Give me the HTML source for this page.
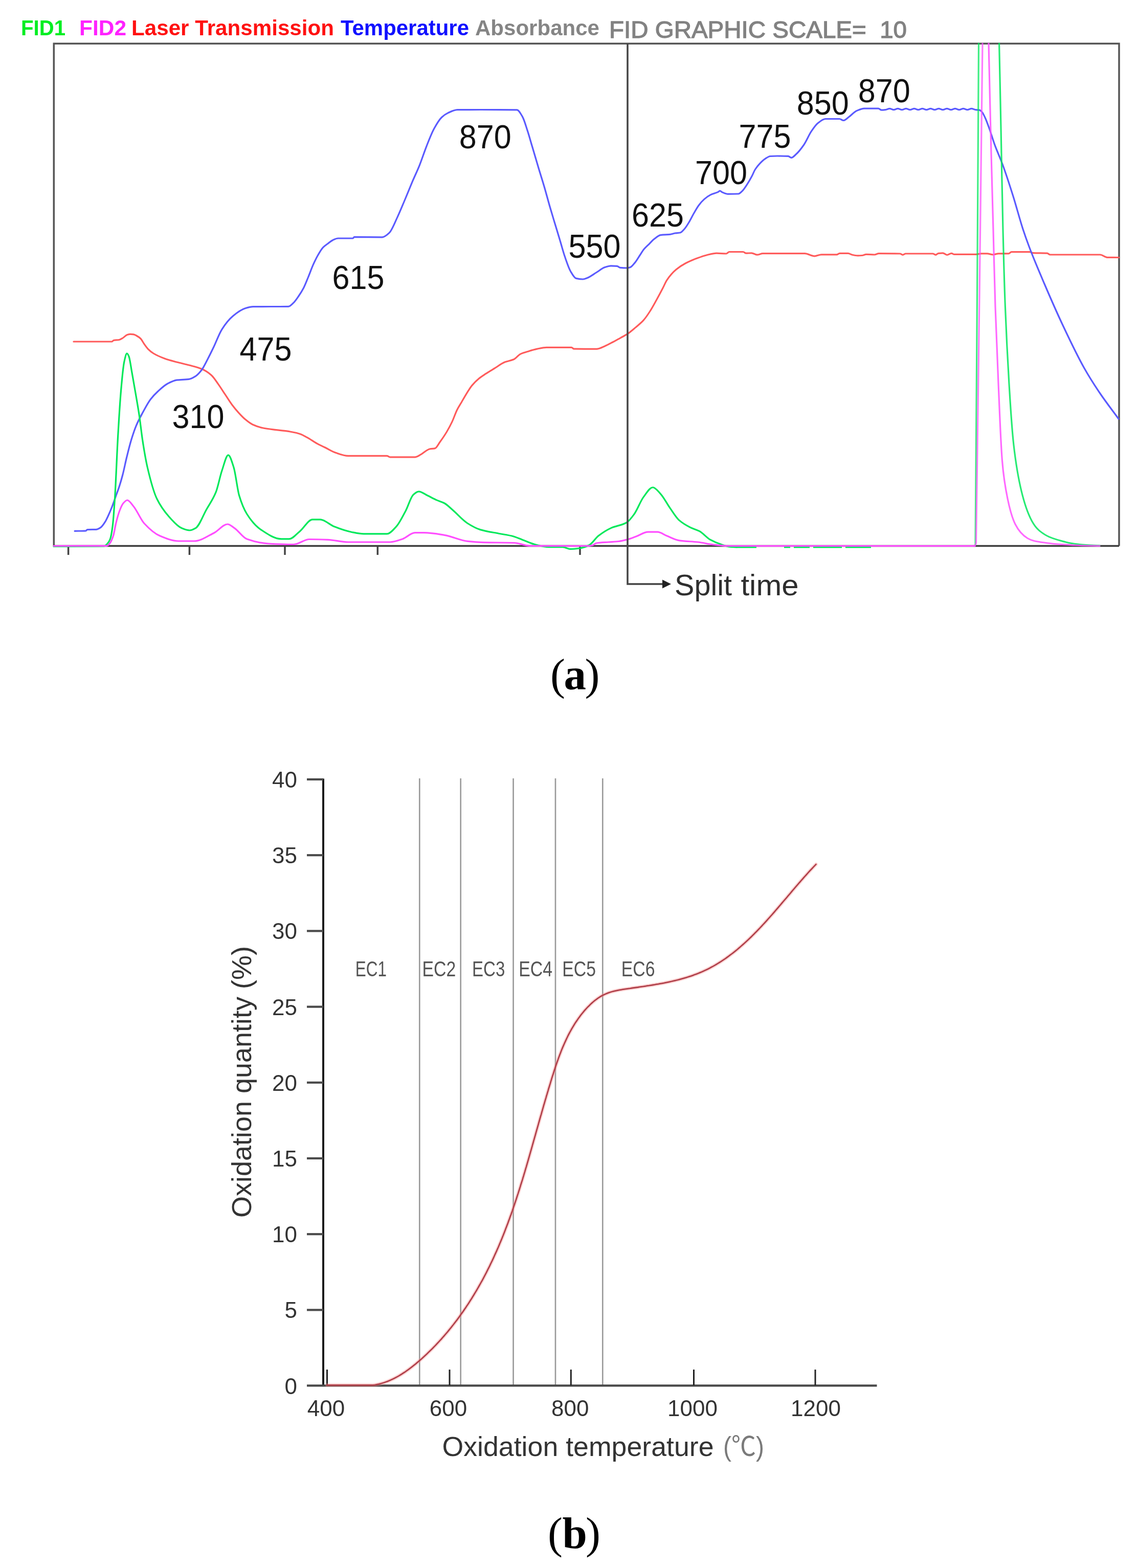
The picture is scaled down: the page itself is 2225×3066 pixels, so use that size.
<!DOCTYPE html>
<html><head><meta charset="utf-8"><title>Figure</title>
<style>
html,body{margin:0;padding:0;background:#fff;}
svg{display:block;}
.lg{font-family:"Liberation Sans",sans-serif;font-weight:bold;font-size:42px;}
.num{font-family:"Liberation Sans",sans-serif;font-size:65px;fill:#111;}
.ax{font-family:"Liberation Sans",sans-serif;font-size:44px;fill:#333;}
.ttl{font-family:"Liberation Sans",sans-serif;font-size:53px;fill:#333;}
.ec{font-family:"Liberation Sans",sans-serif;font-size:42px;fill:#555;}
.cap{font-family:"Liberation Serif",serif;font-size:87px;fill:#000;}
</style></head><body>
<svg width="2225" height="3066" viewBox="0 0 2225 3066">
<rect x="0" y="0" width="2225" height="3066" fill="#fff"/>
<g class="lg"><text x="41" y="69" fill="#00ee22" textLength="87" lengthAdjust="spacingAndGlyphs">FID1</text><text x="155" y="69" fill="#ff22ff" textLength="92" lengthAdjust="spacingAndGlyphs">FID2</text><text x="257" y="69" fill="#ff1111" textLength="396" lengthAdjust="spacingAndGlyphs">Laser Transmission</text><text x="666" y="69" fill="#1111ff" textLength="251" lengthAdjust="spacingAndGlyphs">Temperature</text><text x="929" y="69" fill="#858585" textLength="243" lengthAdjust="spacingAndGlyphs">Absorbance</text></g><text x="1191" y="74" fill="#828282" stroke="#828282" stroke-width="1.3" style="font-family:'Liberation Sans',sans-serif;font-size:46px;white-space:pre" xml:space="preserve" textLength="582" lengthAdjust="spacingAndGlyphs">FID GRAPHIC SCALE=  10</text>
<g fill="none" stroke="#555" stroke-width="3.5"><path d="M105.3 1067.5 L105.3 85.3 L2188 85.3 L2188 1067.5"/><path d="M105 1067.5 L2188 1067.5" stroke="#3c3c3c"/></g>
<g stroke="#444" stroke-width="3.5" fill="none"><path d="M133.6 1068 L133.6 1085"/><path d="M370.4 1068 L370.4 1085"/><path d="M557.0 1068 L557.0 1085"/><path d="M738.3 1068 L738.3 1085"/><path d="M1134.0 1068 L1134.0 1085"/></g>
<g fill="none" stroke-linejoin="round" stroke-linecap="round"><path stroke="#ff5a5a" stroke-width="3.2" d="M144.0 668.0 C169.0 668.0 194.0 668.0 219.0 668.0 C220.0 668.0 221.0 665.7 222.0 665.5 C225.7 664.8 229.3 665.1 233.0 664.5 C235.3 664.1 237.7 662.4 240.0 661.0 C243.0 659.2 246.0 655.4 249.0 654.5 C251.0 653.9 253.0 653.3 255.0 653.3 C257.0 653.3 259.0 653.5 261.0 653.8 C263.0 654.1 265.0 655.4 267.0 656.5 C269.6 657.9 272.2 659.5 274.8 662.0 C277.2 664.3 279.6 669.5 282.0 672.8 C284.4 676.2 286.9 679.8 289.3 682.3 C292.9 685.9 296.4 688.8 300.0 691.0 C307.0 695.3 314.0 698.1 321.0 700.7 C329.1 703.7 337.3 705.8 345.4 708.0 C353.5 710.2 361.6 711.8 369.7 714.0 C377.8 716.2 385.9 717.9 394.0 721.3 C400.5 724.0 406.9 728.0 413.4 733.7 C417.8 737.6 422.3 744.9 426.7 751.1 C431.2 757.3 435.6 764.5 440.1 771.2 C444.6 777.9 449.0 785.2 453.5 791.2 C457.9 797.1 462.4 802.5 466.8 807.3 C471.3 812.2 475.7 816.9 480.2 820.6 C484.7 824.3 489.1 827.9 493.6 830.0 C500.3 833.1 506.9 835.3 513.6 836.7 C522.5 838.6 531.5 839.5 540.4 840.7 C549.3 841.9 558.2 842.5 567.1 844.0 C573.8 845.1 580.5 846.5 587.2 848.7 C591.6 850.2 596.1 853.0 600.5 855.4 C607.0 859.0 613.5 863.9 620.0 867.4 C625.0 870.1 630.0 872.2 635.0 874.7 C642.1 878.2 649.2 882.9 656.3 885.3 C664.4 888.0 672.5 891.4 680.6 891.4 C705.9 891.4 731.3 891.4 756.6 891.4 C758.6 891.4 760.6 893.8 762.6 893.8 C778.8 893.8 795.0 893.8 811.2 893.8 C815.3 893.8 819.3 890.4 823.4 888.3 C828.9 885.4 834.5 879.1 840.0 878.0 C843.6 877.3 847.1 877.5 850.7 876.6 C853.8 875.8 856.9 868.8 860.0 864.5 C864.5 858.3 868.9 852.0 873.4 844.5 C877.0 838.5 880.5 832.0 884.1 824.4 C887.2 817.8 890.4 808.0 893.5 801.7 C896.6 795.5 899.7 791.0 902.8 785.7 C905.9 780.3 909.1 774.6 912.2 769.6 C915.8 763.9 919.3 757.9 922.9 753.6 C927.4 748.2 931.8 743.9 936.3 740.2 C940.7 736.6 945.2 733.8 949.6 730.9 C955.4 727.1 961.2 723.7 967.0 720.2 C973.7 716.1 980.3 710.8 987.0 708.1 C992.8 705.8 998.6 705.4 1004.4 702.8 C1008.9 700.8 1013.3 694.2 1017.8 692.1 C1023.2 689.5 1028.5 688.3 1033.9 686.7 C1039.1 685.1 1044.3 683.5 1049.5 682.4 C1055.8 681.1 1062.1 679.3 1068.4 679.3 C1084.7 679.3 1101.1 679.3 1117.4 679.3 C1119.0 679.3 1120.5 682.2 1122.1 682.2 C1136.9 682.4 1151.6 682.4 1166.4 682.4 C1171.7 682.4 1176.9 679.1 1182.2 676.9 C1187.5 674.7 1192.7 671.8 1198.0 669.0 C1203.3 666.2 1208.5 663.2 1213.8 660.3 C1218.0 658.0 1222.2 656.0 1226.4 653.2 C1231.7 649.7 1236.9 645.1 1242.2 640.6 C1247.5 636.1 1252.7 632.2 1258.0 626.4 C1262.2 621.8 1266.4 615.5 1270.6 609.0 C1274.8 602.5 1279.1 594.5 1283.3 586.9 C1287.5 579.3 1291.8 571.3 1296.0 563.2 C1298.6 558.2 1301.2 551.7 1303.8 547.8 C1309.9 538.7 1315.9 532.1 1322.0 527.0 C1328.0 521.9 1334.0 518.2 1340.0 515.0 C1347.3 511.1 1354.7 508.1 1362.0 505.3 C1368.7 502.8 1375.3 500.3 1382.0 498.7 C1388.3 497.2 1394.7 495.2 1401.0 495.2 C1407.3 495.2 1413.7 496.0 1420.0 496.0 C1421.9 496.0 1423.9 492.5 1425.8 492.5 C1434.9 492.5 1443.9 492.5 1453.0 492.5 C1454.9 492.5 1456.7 495.2 1458.6 495.2 C1462.2 495.2 1465.9 494.8 1469.5 494.8 C1473.1 494.8 1476.8 498.2 1480.4 498.2 C1484.1 498.2 1487.7 495.6 1491.4 495.6 C1518.7 495.6 1546.1 495.6 1573.4 495.6 C1579.8 495.6 1586.1 500.8 1592.5 500.8 C1597.0 500.8 1601.5 497.9 1606.0 497.9 C1616.0 497.9 1626.0 497.9 1636.0 497.9 C1637.9 497.9 1639.8 495.4 1641.7 495.4 C1647.1 495.4 1652.6 495.4 1658.0 495.4 C1660.8 495.4 1663.5 497.6 1666.3 498.2 C1669.9 499.0 1673.6 499.8 1677.2 499.8 C1680.0 499.8 1682.7 499.7 1685.5 499.5 C1688.2 499.3 1691.0 497.4 1693.7 497.4 C1699.1 497.4 1704.6 498.0 1710.0 498.0 C1712.8 498.0 1715.5 495.6 1718.3 495.6 C1732.1 495.6 1745.8 495.7 1759.6 496.0 C1761.4 496.0 1763.2 498.3 1765.0 498.3 C1766.9 498.3 1768.8 496.0 1770.7 496.0 C1788.4 496.0 1806.1 496.0 1823.8 496.0 C1825.7 496.0 1827.5 498.3 1829.4 498.3 C1831.3 498.3 1833.1 495.5 1835.0 495.3 C1837.8 495.0 1840.6 494.8 1843.4 494.8 C1846.2 494.8 1849.0 498.5 1851.8 498.5 C1854.6 498.5 1857.4 495.3 1860.2 495.3 C1862.1 495.3 1863.9 497.4 1865.8 497.4 C1879.8 497.4 1893.7 497.4 1907.7 497.4 C1911.4 497.4 1915.2 495.8 1918.9 495.8 C1922.6 495.8 1926.3 495.8 1930.0 495.8 C1933.7 495.8 1937.5 498.0 1941.2 498.0 C1944.9 498.0 1948.7 495.8 1952.4 495.8 C1958.9 495.8 1965.5 495.8 1972.0 495.8 C1973.9 495.8 1975.7 492.6 1977.6 492.6 C1989.7 492.6 2001.8 492.6 2013.9 492.6 C2015.8 492.6 2017.6 494.5 2019.5 494.6 C2028.8 495.1 2038.1 494.7 2047.4 495.2 C2049.3 495.3 2051.1 498.0 2053.0 498.0 C2085.6 498.0 2118.2 498.0 2150.8 498.0 C2155.5 498.0 2160.1 503.2 2164.8 503.3 C2172.5 503.4 2180.3 503.4 2188.0 503.5"/><path stroke="#5a5aff" stroke-width="3.2" d="M146.2 1038.4 C153.5 1038.2 160.7 1038.3 168.0 1037.8 C168.8 1037.7 169.7 1035.6 170.5 1035.6 C176.2 1035.4 181.8 1035.5 187.5 1035.4 C190.7 1035.3 194.0 1033.3 197.2 1031.1 C200.0 1029.2 202.9 1024.7 205.7 1020.2 C207.7 1017.0 209.8 1012.4 211.8 1008.0 C214.2 1002.8 216.6 997.1 219.0 991.0 C221.5 984.7 223.9 977.3 226.4 970.4 C228.8 963.6 231.3 957.3 233.7 949.7 C235.7 943.5 237.7 936.6 239.7 929.0 C242.5 918.4 245.2 904.2 248.0 893.0 C250.9 881.3 253.8 869.5 256.7 860.0 C260.0 849.3 263.2 839.7 266.5 831.9 C270.5 822.3 274.6 815.0 278.6 807.6 C283.9 797.9 289.1 787.7 294.4 780.8 C299.3 774.4 304.1 769.5 309.0 765.0 C315.1 759.4 321.1 753.7 327.2 750.5 C333.3 747.3 339.3 744.0 345.4 743.2 C353.5 742.2 361.6 742.5 369.7 741.4 C373.8 740.8 377.8 738.4 381.9 735.9 C385.9 733.4 390.0 728.9 394.0 723.7 C398.1 718.5 402.1 709.6 406.2 701.9 C409.8 695.0 413.5 687.5 417.1 680.0 C422.7 668.3 428.4 652.6 434.0 643.8 C441.1 632.7 448.3 623.9 455.4 618.0 C463.5 611.3 471.6 605.2 479.7 602.8 C484.8 601.3 489.9 599.8 495.0 599.7 C506.7 599.6 518.3 599.5 530.0 599.5 C541.2 599.5 552.5 599.5 563.7 599.4 C567.3 599.4 570.8 595.0 574.4 591.6 C577.3 588.8 580.3 584.3 583.2 580.0 C586.8 574.8 590.3 569.3 593.9 562.4 C596.8 556.8 599.7 549.0 602.6 542.0 C605.8 534.2 609.1 524.9 612.3 517.7 C615.5 510.5 618.8 503.8 622.0 498.3 C625.3 492.7 628.5 487.1 631.8 483.7 C635.0 480.4 638.3 478.4 641.5 476.0 C644.7 473.6 648.0 470.6 651.2 469.2 C654.5 467.7 657.7 466.0 661.0 466.0 C670.6 466.0 680.1 466.0 689.7 466.0 C690.7 466.0 691.8 463.4 692.8 463.4 C711.0 463.4 729.2 463.8 747.4 463.8 C751.9 463.8 756.5 459.6 761.0 455.4 C766.3 450.5 771.7 435.8 777.0 424.6 C782.0 414.1 786.9 401.8 791.9 390.0 C796.8 378.3 801.8 365.8 806.7 354.2 C811.2 343.6 815.7 334.5 820.2 323.3 C824.7 312.0 829.3 297.7 833.8 286.3 C838.7 273.9 843.7 260.7 848.6 251.7 C853.6 242.7 858.5 234.2 863.5 229.5 C867.6 225.6 871.7 222.8 875.8 220.9 C882.0 218.0 888.1 214.8 894.3 214.7 C909.5 214.5 924.8 214.5 940.0 214.5 C963.5 214.5 987.1 214.5 1010.6 214.8 C1014.3 214.8 1018.0 222.2 1021.7 228.6 C1024.9 234.2 1028.1 245.8 1031.3 255.6 C1034.5 265.3 1037.6 276.7 1040.8 287.3 C1045.0 301.5 1049.3 316.1 1053.5 330.2 C1057.2 342.5 1060.9 354.0 1064.6 366.7 C1068.3 379.4 1072.0 393.6 1075.7 406.3 C1078.9 417.2 1082.0 427.5 1085.2 438.0 C1088.4 448.6 1091.6 459.1 1094.8 469.8 C1098.0 480.3 1101.1 492.3 1104.3 501.6 C1108.0 512.4 1111.7 523.9 1115.4 530.2 C1119.1 536.5 1122.8 543.6 1126.5 544.4 C1130.9 545.4 1135.3 546.0 1139.7 546.0 C1142.5 546.0 1145.4 544.6 1148.2 543.5 C1154.3 541.2 1160.4 536.2 1166.5 532.5 C1171.7 529.3 1177.0 524.6 1182.2 522.8 C1186.3 521.4 1190.3 519.8 1194.4 519.8 C1198.4 519.8 1202.5 520.0 1206.5 520.4 C1208.5 520.6 1210.6 523.2 1212.6 523.4 C1217.1 523.8 1221.5 524.0 1226.0 524.0 C1228.0 524.0 1230.0 523.4 1232.0 522.8 C1235.3 521.8 1238.5 517.0 1241.8 513.1 C1245.0 509.2 1248.3 503.3 1251.5 498.5 C1253.9 494.9 1256.4 490.6 1258.8 487.6 C1262.4 483.2 1266.1 480.2 1269.7 476.6 C1272.5 473.8 1275.4 470.3 1278.2 468.1 C1282.7 464.6 1287.1 460.2 1291.6 459.6 C1297.7 458.8 1303.7 459.1 1309.8 458.4 C1313.0 458.0 1316.3 456.5 1319.5 456.0 C1322.9 455.5 1326.3 455.6 1329.7 455.0 C1332.5 454.5 1335.4 450.8 1338.2 447.7 C1341.5 444.2 1344.7 438.5 1348.0 433.1 C1350.8 428.4 1353.7 422.2 1356.5 417.3 C1359.7 411.7 1363.0 405.8 1366.2 401.5 C1369.8 396.7 1373.5 392.5 1377.1 389.4 C1381.2 385.9 1385.2 383.0 1389.3 380.9 C1394.5 378.3 1399.8 377.5 1405.0 374.8 C1405.8 374.4 1406.7 373.2 1407.5 373.2 C1409.1 373.2 1410.7 375.3 1412.3 376.0 C1416.0 377.5 1419.6 379.4 1423.3 379.4 C1430.2 379.4 1437.1 379.3 1444.0 379.0 C1446.4 378.9 1448.8 375.9 1451.2 373.6 C1454.5 370.5 1457.7 365.2 1461.0 360.2 C1463.8 355.9 1466.7 350.9 1469.5 345.6 C1471.9 341.1 1474.3 334.8 1476.7 331.0 C1479.6 326.5 1482.4 323.1 1485.3 320.1 C1488.9 316.3 1492.6 312.7 1496.2 310.4 C1499.4 308.3 1502.7 305.7 1505.9 305.5 C1510.6 305.2 1515.3 305.0 1520.0 305.0 C1527.0 305.0 1534.0 305.1 1541.0 305.4 C1543.1 305.5 1545.1 308.4 1547.2 308.4 C1550.2 308.4 1553.3 304.5 1556.3 301.8 C1561.4 297.3 1566.4 290.8 1571.5 283.5 C1576.6 276.2 1581.6 263.6 1586.7 256.2 C1590.7 250.3 1594.8 244.2 1598.8 241.0 C1603.9 237.0 1608.9 232.5 1614.0 232.5 C1623.1 232.5 1632.3 232.5 1641.4 232.5 C1643.9 232.5 1646.5 235.5 1649.0 235.5 C1652.5 235.5 1656.1 231.3 1659.6 228.8 C1664.7 225.3 1669.7 218.9 1674.8 216.7 C1679.9 214.5 1684.9 212.1 1690.0 212.1 C1699.1 212.1 1708.2 212.1 1717.3 212.1 C1719.3 212.1 1721.4 215.2 1723.4 215.2 C1726.1 215.2 1728.7 214.9 1731.4 214.6 C1734.1 214.3 1736.7 212.4 1739.4 212.4 C1742.1 212.4 1744.7 214.6 1747.4 214.6 C1750.1 214.6 1752.7 212.4 1755.4 212.4 C1758.1 212.4 1760.7 214.6 1763.4 214.6 C1766.1 214.6 1768.7 212.4 1771.4 212.4 C1774.1 212.4 1776.7 214.6 1779.4 214.6 C1782.1 214.6 1784.7 212.4 1787.4 212.4 C1790.1 212.4 1792.7 214.6 1795.4 214.6 C1798.1 214.6 1800.7 212.4 1803.4 212.4 C1806.1 212.4 1808.7 214.6 1811.4 214.6 C1814.1 214.6 1816.7 212.4 1819.4 212.4 C1822.1 212.4 1824.7 214.6 1827.4 214.6 C1830.1 214.6 1832.7 212.4 1835.4 212.4 C1838.1 212.4 1840.7 214.6 1843.4 214.6 C1846.1 214.6 1848.7 212.4 1851.4 212.4 C1854.1 212.4 1856.7 214.6 1859.4 214.6 C1862.1 214.6 1864.7 212.4 1867.4 212.4 C1870.1 212.4 1872.7 214.6 1875.4 214.6 C1878.1 214.6 1880.7 212.4 1883.4 212.4 C1886.1 212.4 1888.7 214.6 1891.4 214.6 C1894.1 214.6 1896.7 212.4 1899.4 212.4 C1902.1 212.4 1904.7 214.3 1907.4 214.6 C1909.9 214.9 1912.3 214.8 1914.8 215.2 C1916.5 215.5 1918.3 217.2 1920.0 219.0 C1922.0 221.1 1924.0 225.8 1926.0 230.0 C1928.8 235.9 1931.5 243.7 1934.3 251.4 C1937.7 260.9 1941.2 273.0 1944.6 282.4 C1949.7 296.5 1954.9 307.1 1960.0 321.0 C1966.9 339.7 1973.8 361.1 1980.7 383.0 C1987.1 403.4 1993.6 428.3 2000.0 448.0 C2004.0 460.2 2008.0 471.4 2012.0 482.0 C2022.0 508.5 2032.0 531.6 2042.0 555.0 C2054.0 583.1 2066.0 610.5 2078.0 636.0 C2092.0 665.7 2106.0 695.3 2120.0 720.0 C2130.0 737.7 2140.0 753.2 2150.0 768.0 C2162.3 786.3 2174.7 802.0 2187.0 819.0"/><path stroke="#00e85a" stroke-width="3.2" d="M105.0 1068.5 C137.7 1068.3 170.3 1068.5 203.0 1068.0 C205.3 1068.0 207.7 1065.4 210.0 1063.0 C211.8 1061.2 213.6 1058.6 215.4 1054.0 C216.9 1050.1 218.5 1041.2 220.0 1030.0 C221.5 1019.0 223.0 997.5 224.5 975.0 C226.5 944.5 228.6 887.7 230.6 853.0 C232.6 818.3 234.7 784.7 236.7 762.0 C238.7 739.3 240.8 716.8 242.8 707.6 C244.6 699.5 246.4 691.0 248.2 691.0 C249.5 691.0 250.7 694.0 252.0 697.0 C254.0 701.7 256.0 717.7 258.0 728.6 C260.8 744.1 263.7 760.5 266.5 777.2 C268.5 789.0 270.5 800.2 272.5 813.7 C274.5 827.4 276.6 846.8 278.6 860.0 C281.8 881.0 285.1 900.2 288.3 914.0 C294.4 940.1 300.5 962.3 306.6 975.0 C314.7 991.9 322.9 1001.9 331.0 1011.0 C339.0 1019.9 347.0 1029.3 355.0 1032.6 C360.1 1034.7 365.3 1037.0 370.4 1037.0 C374.4 1037.0 378.5 1034.9 382.5 1032.6 C389.6 1028.6 396.7 1008.6 403.8 996.0 C409.9 985.2 415.9 977.7 422.0 962.7 C426.0 952.8 430.0 931.6 434.0 920.0 C438.1 908.1 442.2 889.8 446.3 889.8 C449.9 889.8 453.4 902.8 457.0 914.0 C460.5 925.1 464.1 957.0 467.6 968.8 C472.6 985.6 477.7 997.0 482.7 1005.0 C491.8 1019.4 500.9 1029.5 510.0 1035.6 C523.3 1044.5 536.7 1053.9 550.0 1053.9 C555.1 1053.9 560.1 1053.9 565.2 1053.9 C572.3 1053.9 579.4 1044.4 586.5 1038.7 C594.6 1032.2 602.7 1015.9 610.8 1015.9 C615.9 1015.9 620.9 1015.9 626.0 1015.9 C635.1 1015.9 644.2 1026.0 653.3 1029.6 C664.4 1034.0 675.6 1038.0 686.7 1040.2 C694.8 1041.8 702.9 1043.9 711.0 1043.9 C726.2 1043.9 741.4 1043.9 756.6 1043.9 C762.7 1043.9 768.7 1036.1 774.8 1029.6 C780.9 1023.1 786.9 1010.5 793.0 999.2 C798.1 989.7 803.1 971.7 808.2 967.3 C811.7 964.2 815.3 961.2 818.8 961.2 C824.4 961.2 829.9 966.2 835.5 968.8 C841.6 971.7 847.7 975.2 853.8 977.9 C858.9 980.1 863.9 981.3 869.0 984.0 C874.0 986.7 879.0 992.0 884.0 996.2 C894.2 1004.8 904.3 1017.1 914.5 1023.5 C922.6 1028.6 930.7 1033.2 938.8 1035.6 C951.0 1039.3 963.1 1040.8 975.3 1043.2 C983.9 1044.9 992.4 1045.9 1001.0 1048.0 C1007.8 1049.7 1014.5 1052.9 1021.3 1055.4 C1029.4 1058.4 1037.5 1062.4 1045.6 1064.5 C1054.7 1066.8 1063.8 1069.7 1072.9 1069.7 C1082.0 1069.7 1091.1 1069.7 1100.2 1069.7 C1105.3 1069.7 1110.3 1073.6 1115.4 1073.6 C1121.5 1073.6 1127.6 1072.8 1133.7 1072.0 C1139.8 1071.2 1145.8 1069.0 1151.9 1066.0 C1157.9 1063.0 1164.0 1052.5 1170.0 1047.8 C1178.1 1041.5 1186.3 1036.3 1194.4 1032.6 C1204.5 1028.0 1214.7 1027.7 1224.8 1022.0 C1229.9 1019.2 1234.9 1012.2 1240.0 1005.3 C1246.1 997.0 1252.1 979.9 1258.2 971.9 C1264.3 963.9 1270.3 953.0 1276.4 953.0 C1281.5 953.0 1286.5 960.4 1291.6 965.8 C1297.7 972.3 1303.7 984.5 1309.8 993.1 C1315.9 1001.7 1321.9 1012.1 1328.0 1017.4 C1335.1 1023.6 1342.2 1027.5 1349.3 1031.1 C1355.4 1034.2 1361.5 1035.4 1367.6 1038.7 C1374.7 1042.5 1381.7 1051.5 1388.8 1055.4 C1395.9 1059.3 1402.9 1062.1 1410.0 1064.5 C1415.0 1066.2 1420.0 1068.2 1425.0 1068.8 C1430.0 1069.4 1435.0 1069.6 1440.0 1070.0"/><path stroke="#00e85a" stroke-width="3.2" stroke-linecap="butt" stroke-dasharray="39 54 12 7 31 7 56 7 50 300" d="M1440 1070 L1720 1070"/><path stroke="#00e85a" stroke-opacity="0.75" stroke-width="3.2" d="M1905.0 1067.5 L1907.0 1066.0 L1910.5 580.0 L1913.5 85.0"/><path stroke="#00e85a" stroke-opacity="0.85" stroke-width="3.2" d="M1953.6 85.0 C1954.2 112.5 1955.8 189.2 1957.0 250.0 C1958.2 310.8 1959.6 391.7 1961.0 450.0 C1962.4 508.3 1963.4 550.0 1965.4 600.0 C1967.4 650.0 1970.2 704.8 1972.9 749.7 C1975.7 794.6 1977.9 834.6 1981.9 869.6 C1985.9 904.6 1990.9 934.6 1996.9 959.6 C2002.9 984.6 2009.9 1005.0 2017.9 1019.5 C2025.9 1034.0 2033.8 1039.8 2044.8 1046.5 C2055.8 1053.2 2072.8 1057.0 2083.8 1060.0 C2094.8 1063.0 2099.8 1063.3 2110.8 1064.5 C2121.8 1065.7 2143.5 1066.6 2150.0 1067.0"/><path stroke="#ff4dff" stroke-width="3.2" d="M105.0 1067.5 C139.7 1067.4 174.3 1067.5 209.0 1067.3 C211.0 1067.3 213.0 1064.5 215.0 1062.0 C217.2 1059.3 219.3 1054.3 221.5 1047.8 C223.3 1042.3 225.2 1029.3 227.0 1022.0 C229.2 1013.1 231.5 1004.8 233.7 999.0 C236.1 992.7 238.6 986.7 241.0 984.0 C243.6 981.1 246.2 978.0 248.8 978.0 C252.9 978.0 256.9 985.2 261.0 990.0 C268.0 998.3 275.0 1015.9 282.0 1023.5 C292.2 1034.5 302.4 1043.5 312.6 1047.8 C324.7 1052.9 336.9 1058.0 349.0 1058.0 C359.2 1058.0 369.3 1058.0 379.5 1058.0 C392.7 1058.0 405.8 1048.4 419.0 1041.7 C427.6 1037.3 436.2 1025.0 444.8 1025.0 C449.3 1025.0 453.9 1029.6 458.4 1032.6 C466.5 1038.0 474.6 1051.1 482.7 1054.0 C496.8 1059.1 510.9 1062.2 525.0 1063.0 C541.4 1063.9 557.9 1064.5 574.3 1064.5 C584.4 1064.5 594.6 1054.5 604.7 1054.5 C616.8 1054.5 628.9 1054.9 641.0 1055.4 C654.2 1055.9 667.4 1060.0 680.6 1060.0 C707.9 1060.0 735.3 1060.0 762.6 1060.0 C770.7 1060.0 778.9 1056.6 787.0 1053.9 C795.1 1051.2 803.1 1041.7 811.2 1041.7 C817.3 1041.7 823.4 1041.7 829.5 1041.7 C842.7 1041.7 855.8 1044.2 869.0 1046.3 C884.2 1048.7 899.3 1056.7 914.5 1058.4 C924.7 1059.5 934.8 1060.3 945.0 1060.6 C965.2 1061.1 985.4 1060.9 1005.6 1061.5 C1015.7 1061.8 1025.9 1067.3 1036.0 1067.3 C1074.0 1067.5 1112.0 1067.5 1150.0 1067.5 C1152.7 1067.5 1155.3 1067.0 1158.0 1066.5 C1160.7 1066.0 1163.3 1062.4 1166.0 1062.0 C1174.0 1060.7 1182.0 1060.6 1190.0 1060.0 C1196.7 1059.5 1203.3 1059.3 1210.0 1058.5 C1214.9 1057.9 1219.9 1056.7 1224.8 1055.4 C1230.9 1053.8 1236.9 1051.4 1243.0 1049.3 C1251.1 1046.4 1259.2 1040.2 1267.3 1040.2 C1273.4 1040.2 1279.4 1040.2 1285.5 1040.2 C1291.6 1040.2 1297.7 1045.4 1303.8 1047.8 C1311.9 1051.0 1319.9 1055.7 1328.0 1056.9 C1340.2 1058.7 1352.3 1058.6 1364.5 1060.0 C1374.6 1061.1 1384.8 1063.9 1394.9 1065.0 C1405.0 1066.1 1415.2 1067.5 1425.3 1067.5 C1585.5 1067.5 1745.8 1067.5 1906.0 1067.5"/><path stroke="#ff4dff" stroke-opacity="0.75" stroke-width="3.2" d="M1906.0 1067.5 L1908.5 1062.0 L1915.0 580.0 L1921.0 85.0"/><path stroke="#ff4dff" stroke-opacity="0.85" stroke-width="3.2" d="M1933.0 85.0 C1933.8 120.8 1936.5 239.2 1938.0 300.0 C1939.5 360.8 1940.7 400.0 1942.0 450.0 C1943.3 500.0 1944.3 550.0 1946.0 600.0 C1947.7 650.0 1949.8 700.0 1952.0 750.0 C1954.2 800.0 1956.4 862.5 1959.4 900.0 C1962.4 937.5 1965.7 954.2 1970.0 975.0 C1974.3 995.8 1978.5 1012.1 1985.0 1025.0 C1991.5 1037.9 1999.0 1046.4 2009.0 1052.5 C2019.0 1058.6 2029.8 1059.2 2045.0 1061.5 C2060.2 1063.8 2082.5 1065.0 2100.0 1066.0 C2117.5 1067.0 2141.7 1067.2 2150.0 1067.5"/></g>
<g stroke="#444" stroke-width="3.5" fill="none"><path d="M1227 85 L1227 1142 L1298 1142"/></g><path d="M1295 1133.5 L1312 1142 L1295 1150.5 Z" fill="#222"/>
<text y="1164" style="font-family:'Liberation Sans',sans-serif;font-size:57px" fill="#2e2e2e"><tspan x="1319" textLength="112" lengthAdjust="spacingAndGlyphs">Split</tspan><tspan x="1448.5" textLength="113" lengthAdjust="spacingAndGlyphs">time</tspan></text>
<g class="num"><text x="336.5" y="836.7" textLength="102" lengthAdjust="spacingAndGlyphs">310</text><text x="468.6" y="704.5" textLength="102" lengthAdjust="spacingAndGlyphs">475</text><text x="649.6" y="564.5" textLength="102" lengthAdjust="spacingAndGlyphs">615</text><text x="897.8" y="289.6" textLength="102" lengthAdjust="spacingAndGlyphs">870</text><text x="1111.6" y="503.7" textLength="102" lengthAdjust="spacingAndGlyphs">550</text><text x="1235.0" y="443.0" textLength="102" lengthAdjust="spacingAndGlyphs">625</text><text x="1359.0" y="359.5" textLength="102" lengthAdjust="spacingAndGlyphs">700</text><text x="1444.5" y="289.0" textLength="102" lengthAdjust="spacingAndGlyphs">775</text><text x="1557.8" y="224.3" textLength="102" lengthAdjust="spacingAndGlyphs">850</text><text x="1677.8" y="200.0" textLength="102" lengthAdjust="spacingAndGlyphs">870</text></g>
<text class="cap" x="1076" y="1348">(<tspan font-weight="bold" dx="-2.5">a</tspan><tspan dx="-2.5">)</tspan></text>
<g stroke="#999" stroke-width="2.6"><path d="M820.3 1522 L820.3 2709"/><path d="M900.7 1522 L900.7 2709"/><path d="M1003.6 1522 L1003.6 2709"/><path d="M1086.0 1522 L1086.0 2709"/><path d="M1178.3 1522 L1178.3 2709"/></g>
<g class="ec"><text x="694.8" y="1909" textLength="61.2" lengthAdjust="spacingAndGlyphs">EC1</text><text x="825.4" y="1909" textLength="65.8" lengthAdjust="spacingAndGlyphs">EC2</text><text x="923.0" y="1909" textLength="64.3" lengthAdjust="spacingAndGlyphs">EC3</text><text x="1014.2" y="1909" textLength="65.8" lengthAdjust="spacingAndGlyphs">EC4</text><text x="1099.2" y="1909" textLength="65.8" lengthAdjust="spacingAndGlyphs">EC5</text><text x="1214.7" y="1909" textLength="65.8" lengthAdjust="spacingAndGlyphs">EC6</text></g>
<g stroke="#1a1a1a" stroke-width="4" fill="none"><path d="M632 1522.5 L632 2711"/></g><g stroke="#4a4a4a" stroke-width="4.2" fill="none"><path d="M600 2709.4 L1714.5 2709.4"/><path d="M600 2561.4 L632 2561.4"/><path d="M600 2413.2 L632 2413.2"/><path d="M600 2265.0 L632 2265.0"/><path d="M600 2116.8 L632 2116.8"/><path d="M600 1968.6 L632 1968.6"/><path d="M600 1820.4 L632 1820.4"/><path d="M600 1672.2 L632 1672.2"/><path d="M600 1524.0 L632 1524.0"/></g><g stroke="#222" stroke-width="3" fill="none"><path d="M639.5 2678 L639.5 2709"/><path d="M879.0 2678 L879.0 2709"/><path d="M1116.3 2678 L1116.3 2709"/><path d="M1356.5 2678 L1356.5 2709"/><path d="M1594.0 2678 L1594.0 2709"/></g>
<g class="ax" text-anchor="end"><text x="581" y="2725.6">0</text><text x="581" y="2577.4">5</text><text x="581" y="2429.2">10</text><text x="581" y="2281.0">15</text><text x="581" y="2132.8">20</text><text x="581" y="1984.6">25</text><text x="581" y="1836.4">30</text><text x="581" y="1688.2">35</text><text x="581" y="1540.0">40</text></g><g class="ax" text-anchor="middle"><text x="637.5" y="2768.6">400</text><text x="876.5" y="2768.6">600</text><text x="1114.7" y="2768.6">800</text><text x="1354.0" y="2768.6">1000</text><text x="1595.0" y="2768.6">1200</text></g>
<text class="ttl" x="864.5" y="2846.5" textLength="531" lengthAdjust="spacingAndGlyphs">Oxidation temperature</text>
<text x="1414" y="2846.5" fill="#7a7a7a" style="font-family:'Liberation Sans','Noto Sans CJK KR',sans-serif;font-size:53px" textLength="80" lengthAdjust="spacingAndGlyphs">(℃)</text>
<text class="ttl" transform="translate(491.4 2381) rotate(-90)" x="0" y="0" textLength="531" lengthAdjust="spacingAndGlyphs">Oxidation quantity (%)</text>
<path fill="none" stroke="#ff8a8a" stroke-opacity="0.35" stroke-width="7" stroke-linecap="round" d="M639.6 2708.3 L699.8 2708.3 L703.7 2708.3 L707.6 2708.3 L711.4 2708.3 L715.2 2708.3 L718.9 2708.3 L722.6 2708.3 L726.3 2708.3 L729.9 2708.3 L733.5 2707.8 L737.0 2707.1 L740.6 2706.4 L744.0 2705.5 L747.5 2704.5 L750.9 2703.5 L754.3 2702.3 L757.6 2701.1 L760.9 2699.7 L764.2 2698.3 L767.5 2696.8 L770.7 2695.2 L773.9 2693.6 L777.0 2691.9 L780.1 2690.1 L783.2 2688.2 L786.3 2686.3 L789.4 2684.3 L792.4 2682.3 L795.4 2680.2 L798.3 2678.1 L801.3 2675.9 L804.2 2673.7 L807.1 2671.4 L809.9 2669.1 L812.8 2666.8 L815.6 2664.4 L818.4 2662.0 L821.2 2659.6 L824.0 2657.2 L826.7 2654.7 L829.4 2652.2 L832.1 2649.7 L834.8 2647.2 L837.5 2644.6 L840.1 2642.1 L842.7 2639.5 L845.3 2636.9 L847.9 2634.3 L850.5 2631.6 L853.0 2629.0 L855.5 2626.3 L858.0 2623.6 L860.5 2620.9 L863.0 2618.2 L865.4 2615.4 L867.8 2612.7 L870.2 2609.9 L872.6 2607.1 L875.0 2604.3 L877.3 2601.5 L879.6 2598.6 L881.9 2595.8 L884.2 2592.9 L886.5 2590.0 L888.7 2587.1 L891.0 2584.2 L893.2 2581.3 L895.4 2578.3 L897.6 2575.4 L899.7 2572.4 L901.8 2569.4 L904.0 2566.4 L906.1 2563.4 L908.1 2560.4 L910.2 2557.4 L912.2 2554.3 L914.3 2551.3 L916.3 2548.2 L918.3 2545.1 L920.2 2542.0 L922.2 2538.9 L924.1 2535.8 L926.0 2532.7 L927.9 2529.6 L929.8 2526.4 L931.7 2523.3 L933.5 2520.1 L935.3 2517.0 L937.1 2513.8 L938.9 2510.6 L940.7 2507.4 L942.5 2504.3 L944.2 2501.1 L945.9 2497.8 L947.6 2494.6 L949.3 2491.4 L951.0 2488.2 L952.6 2484.9 L954.2 2481.7 L955.9 2478.4 L957.5 2475.2 L959.0 2471.9 L960.6 2468.7 L962.2 2465.4 L963.7 2462.1 L965.2 2458.8 L966.7 2455.5 L968.2 2452.2 L969.7 2448.9 L971.2 2445.6 L972.6 2442.3 L974.1 2439.0 L975.5 2435.7 L976.9 2432.3 L978.3 2429.0 L979.7 2425.6 L981.1 2422.3 L982.4 2418.9 L983.8 2415.6 L985.1 2412.2 L986.4 2408.9 L987.7 2405.5 L989.0 2402.1 L990.3 2398.7 L991.6 2395.3 L992.9 2391.9 L994.1 2388.5 L995.4 2385.1 L996.6 2381.7 L997.8 2378.3 L999.1 2374.9 L1000.3 2371.5 L1001.5 2368.1 L1002.6 2364.6 L1003.8 2361.2 L1005.0 2357.8 L1006.2 2354.3 L1007.3 2350.9 L1008.5 2347.4 L1009.6 2344.0 L1010.7 2340.5 L1011.8 2337.1 L1013.0 2333.6 L1014.1 2330.1 L1015.2 2326.7 L1016.3 2323.2 L1017.4 2319.7 L1018.4 2316.2 L1019.5 2312.8 L1020.6 2309.3 L1021.7 2305.8 L1022.7 2302.3 L1023.8 2298.8 L1024.8 2295.3 L1025.9 2291.8 L1026.9 2288.3 L1027.9 2284.8 L1029.0 2281.3 L1030.0 2277.8 L1031.0 2274.3 L1032.1 2270.7 L1033.1 2267.2 L1034.1 2263.7 L1035.1 2260.2 L1036.1 2256.7 L1037.1 2253.1 L1038.1 2249.6 L1039.1 2246.1 L1040.1 2242.6 L1041.1 2239.0 L1042.1 2235.5 L1043.1 2231.9 L1044.1 2228.4 L1045.1 2224.9 L1046.1 2221.3 L1047.1 2217.8 L1048.1 2214.2 L1049.1 2210.7 L1050.1 2207.2 L1051.1 2203.6 L1052.1 2200.1 L1053.1 2196.5 L1054.1 2193.0 L1055.1 2189.4 L1056.1 2185.9 L1057.1 2182.3 L1058.2 2178.8 L1059.2 2175.2 L1060.2 2171.7 L1061.2 2168.1 L1062.2 2164.6 L1063.2 2161.0 L1064.3 2157.4 L1065.3 2153.9 L1066.3 2150.3 L1067.4 2146.8 L1068.4 2143.2 L1069.5 2139.7 L1070.5 2136.1 L1071.6 2132.6 L1072.6 2129.0 L1073.7 2125.5 L1074.8 2121.9 L1075.9 2118.4 L1076.9 2114.8 L1078.0 2111.3 L1079.1 2107.7 L1080.2 2104.2 L1081.4 2100.6 L1082.5 2097.1 L1083.6 2093.5 L1084.8 2090.0 L1085.9 2086.5 L1087.1 2083.0 L1088.3 2079.5 L1089.5 2076.0 L1090.8 2072.5 L1092.0 2069.0 L1093.3 2065.6 L1094.6 2062.1 L1095.9 2058.7 L1097.2 2055.2 L1098.6 2051.8 L1100.0 2048.4 L1101.4 2045.1 L1102.9 2041.7 L1104.4 2038.4 L1105.9 2035.1 L1107.4 2031.8 L1109.0 2028.5 L1110.6 2025.2 L1112.2 2022.0 L1113.9 2018.8 L1115.7 2015.6 L1117.4 2012.5 L1119.2 2009.4 L1121.1 2006.3 L1122.9 2003.2 L1124.9 2000.1 L1126.9 1997.1 L1128.9 1994.2 L1130.9 1991.2 L1133.1 1988.3 L1135.2 1985.4 L1137.4 1982.6 L1139.7 1979.8 L1142.0 1977.0 L1144.4 1974.3 L1146.8 1971.6 L1149.3 1968.9 L1151.9 1966.4 L1154.5 1963.8 L1157.1 1961.4 L1159.8 1959.0 L1162.6 1956.7 L1165.4 1954.5 L1168.3 1952.4 L1171.3 1950.4 L1174.2 1948.5 L1177.3 1946.8 L1180.4 1945.2 L1183.6 1943.7 L1186.8 1942.4 L1190.1 1941.1 L1193.4 1940.0 L1196.8 1939.0 L1200.2 1938.1 L1203.7 1937.3 L1207.2 1936.6 L1210.7 1935.9 L1214.2 1935.3 L1217.8 1934.7 L1221.4 1934.1 L1225.0 1933.6 L1228.6 1933.1 L1232.3 1932.6 L1235.9 1932.0 L1239.5 1931.5 L1243.2 1931.0 L1246.9 1930.5 L1250.5 1929.9 L1254.2 1929.4 L1257.9 1928.9 L1261.5 1928.3 L1265.2 1927.7 L1268.9 1927.2 L1272.5 1926.6 L1276.2 1926.0 L1279.9 1925.4 L1283.5 1924.7 L1287.2 1924.1 L1290.9 1923.4 L1294.5 1922.8 L1298.2 1922.1 L1301.8 1921.3 L1305.4 1920.6 L1309.1 1919.8 L1312.7 1919.0 L1316.3 1918.2 L1319.9 1917.3 L1323.4 1916.5 L1327.0 1915.6 L1330.5 1914.6 L1334.1 1913.6 L1337.6 1912.6 L1341.1 1911.6 L1344.6 1910.5 L1348.1 1909.4 L1351.5 1908.3 L1354.9 1907.1 L1358.3 1905.8 L1361.7 1904.6 L1365.1 1903.3 L1368.4 1901.9 L1371.8 1900.5 L1375.1 1899.0 L1378.3 1897.5 L1381.6 1896.0 L1384.8 1894.4 L1388.0 1892.8 L1391.1 1891.1 L1394.3 1889.4 L1397.4 1887.6 L1400.5 1885.8 L1403.6 1883.9 L1406.6 1882.0 L1409.6 1880.1 L1412.6 1878.1 L1415.6 1876.1 L1418.6 1874.1 L1421.5 1872.0 L1424.4 1869.9 L1427.3 1867.7 L1430.2 1865.5 L1433.1 1863.3 L1435.9 1861.1 L1438.7 1858.8 L1441.6 1856.5 L1444.3 1854.1 L1447.1 1851.7 L1449.9 1849.3 L1452.6 1846.9 L1455.3 1844.5 L1458.0 1842.0 L1460.7 1839.5 L1463.4 1837.0 L1466.0 1834.4 L1468.7 1831.9 L1471.3 1829.3 L1473.9 1826.7 L1476.5 1824.0 L1479.1 1821.4 L1481.7 1818.7 L1484.3 1816.1 L1486.8 1813.4 L1489.3 1810.7 L1491.9 1807.9 L1494.4 1805.2 L1496.9 1802.5 L1499.4 1799.7 L1501.9 1796.9 L1504.4 1794.1 L1506.8 1791.4 L1509.3 1788.6 L1511.8 1785.8 L1514.2 1783.0 L1516.6 1780.1 L1519.1 1777.3 L1521.5 1774.5 L1523.9 1771.7 L1526.3 1768.9 L1528.7 1766.0 L1531.1 1763.2 L1533.5 1760.4 L1535.9 1757.6 L1538.3 1754.8 L1540.7 1751.9 L1543.1 1749.1 L1545.5 1746.3 L1547.8 1743.5 L1550.2 1740.7 L1552.6 1737.9 L1554.9 1735.2 L1557.3 1732.4 L1559.7 1729.6 L1562.0 1726.9 L1564.4 1724.2 L1566.8 1721.4 L1569.2 1718.7 L1571.5 1716.0 L1573.9 1713.4 L1576.3 1710.7 L1578.6 1708.1 L1581.0 1705.4 L1583.4 1702.8 L1585.8 1700.2 L1588.2 1697.7 L1590.6 1695.1 L1593.0 1692.6 L1595.4 1690.1"/><path fill="none" stroke="#b0404a" stroke-width="2.8" stroke-linecap="round" d="M639.6 2708.3 L699.8 2708.3 L703.7 2708.3 L707.6 2708.3 L711.4 2708.3 L715.2 2708.3 L718.9 2708.3 L722.6 2708.3 L726.3 2708.3 L729.9 2708.3 L733.5 2707.8 L737.0 2707.1 L740.6 2706.4 L744.0 2705.5 L747.5 2704.5 L750.9 2703.5 L754.3 2702.3 L757.6 2701.1 L760.9 2699.7 L764.2 2698.3 L767.5 2696.8 L770.7 2695.2 L773.9 2693.6 L777.0 2691.9 L780.1 2690.1 L783.2 2688.2 L786.3 2686.3 L789.4 2684.3 L792.4 2682.3 L795.4 2680.2 L798.3 2678.1 L801.3 2675.9 L804.2 2673.7 L807.1 2671.4 L809.9 2669.1 L812.8 2666.8 L815.6 2664.4 L818.4 2662.0 L821.2 2659.6 L824.0 2657.2 L826.7 2654.7 L829.4 2652.2 L832.1 2649.7 L834.8 2647.2 L837.5 2644.6 L840.1 2642.1 L842.7 2639.5 L845.3 2636.9 L847.9 2634.3 L850.5 2631.6 L853.0 2629.0 L855.5 2626.3 L858.0 2623.6 L860.5 2620.9 L863.0 2618.2 L865.4 2615.4 L867.8 2612.7 L870.2 2609.9 L872.6 2607.1 L875.0 2604.3 L877.3 2601.5 L879.6 2598.6 L881.9 2595.8 L884.2 2592.9 L886.5 2590.0 L888.7 2587.1 L891.0 2584.2 L893.2 2581.3 L895.4 2578.3 L897.6 2575.4 L899.7 2572.4 L901.8 2569.4 L904.0 2566.4 L906.1 2563.4 L908.1 2560.4 L910.2 2557.4 L912.2 2554.3 L914.3 2551.3 L916.3 2548.2 L918.3 2545.1 L920.2 2542.0 L922.2 2538.9 L924.1 2535.8 L926.0 2532.7 L927.9 2529.6 L929.8 2526.4 L931.7 2523.3 L933.5 2520.1 L935.3 2517.0 L937.1 2513.8 L938.9 2510.6 L940.7 2507.4 L942.5 2504.3 L944.2 2501.1 L945.9 2497.8 L947.6 2494.6 L949.3 2491.4 L951.0 2488.2 L952.6 2484.9 L954.2 2481.7 L955.9 2478.4 L957.5 2475.2 L959.0 2471.9 L960.6 2468.7 L962.2 2465.4 L963.7 2462.1 L965.2 2458.8 L966.7 2455.5 L968.2 2452.2 L969.7 2448.9 L971.2 2445.6 L972.6 2442.3 L974.1 2439.0 L975.5 2435.7 L976.9 2432.3 L978.3 2429.0 L979.7 2425.6 L981.1 2422.3 L982.4 2418.9 L983.8 2415.6 L985.1 2412.2 L986.4 2408.9 L987.7 2405.5 L989.0 2402.1 L990.3 2398.7 L991.6 2395.3 L992.9 2391.9 L994.1 2388.5 L995.4 2385.1 L996.6 2381.7 L997.8 2378.3 L999.1 2374.9 L1000.3 2371.5 L1001.5 2368.1 L1002.6 2364.6 L1003.8 2361.2 L1005.0 2357.8 L1006.2 2354.3 L1007.3 2350.9 L1008.5 2347.4 L1009.6 2344.0 L1010.7 2340.5 L1011.8 2337.1 L1013.0 2333.6 L1014.1 2330.1 L1015.2 2326.7 L1016.3 2323.2 L1017.4 2319.7 L1018.4 2316.2 L1019.5 2312.8 L1020.6 2309.3 L1021.7 2305.8 L1022.7 2302.3 L1023.8 2298.8 L1024.8 2295.3 L1025.9 2291.8 L1026.9 2288.3 L1027.9 2284.8 L1029.0 2281.3 L1030.0 2277.8 L1031.0 2274.3 L1032.1 2270.7 L1033.1 2267.2 L1034.1 2263.7 L1035.1 2260.2 L1036.1 2256.7 L1037.1 2253.1 L1038.1 2249.6 L1039.1 2246.1 L1040.1 2242.6 L1041.1 2239.0 L1042.1 2235.5 L1043.1 2231.9 L1044.1 2228.4 L1045.1 2224.9 L1046.1 2221.3 L1047.1 2217.8 L1048.1 2214.2 L1049.1 2210.7 L1050.1 2207.2 L1051.1 2203.6 L1052.1 2200.1 L1053.1 2196.5 L1054.1 2193.0 L1055.1 2189.4 L1056.1 2185.9 L1057.1 2182.3 L1058.2 2178.8 L1059.2 2175.2 L1060.2 2171.7 L1061.2 2168.1 L1062.2 2164.6 L1063.2 2161.0 L1064.3 2157.4 L1065.3 2153.9 L1066.3 2150.3 L1067.4 2146.8 L1068.4 2143.2 L1069.5 2139.7 L1070.5 2136.1 L1071.6 2132.6 L1072.6 2129.0 L1073.7 2125.5 L1074.8 2121.9 L1075.9 2118.4 L1076.9 2114.8 L1078.0 2111.3 L1079.1 2107.7 L1080.2 2104.2 L1081.4 2100.6 L1082.5 2097.1 L1083.6 2093.5 L1084.8 2090.0 L1085.9 2086.5 L1087.1 2083.0 L1088.3 2079.5 L1089.5 2076.0 L1090.8 2072.5 L1092.0 2069.0 L1093.3 2065.6 L1094.6 2062.1 L1095.9 2058.7 L1097.2 2055.2 L1098.6 2051.8 L1100.0 2048.4 L1101.4 2045.1 L1102.9 2041.7 L1104.4 2038.4 L1105.9 2035.1 L1107.4 2031.8 L1109.0 2028.5 L1110.6 2025.2 L1112.2 2022.0 L1113.9 2018.8 L1115.7 2015.6 L1117.4 2012.5 L1119.2 2009.4 L1121.1 2006.3 L1122.9 2003.2 L1124.9 2000.1 L1126.9 1997.1 L1128.9 1994.2 L1130.9 1991.2 L1133.1 1988.3 L1135.2 1985.4 L1137.4 1982.6 L1139.7 1979.8 L1142.0 1977.0 L1144.4 1974.3 L1146.8 1971.6 L1149.3 1968.9 L1151.9 1966.4 L1154.5 1963.8 L1157.1 1961.4 L1159.8 1959.0 L1162.6 1956.7 L1165.4 1954.5 L1168.3 1952.4 L1171.3 1950.4 L1174.2 1948.5 L1177.3 1946.8 L1180.4 1945.2 L1183.6 1943.7 L1186.8 1942.4 L1190.1 1941.1 L1193.4 1940.0 L1196.8 1939.0 L1200.2 1938.1 L1203.7 1937.3 L1207.2 1936.6 L1210.7 1935.9 L1214.2 1935.3 L1217.8 1934.7 L1221.4 1934.1 L1225.0 1933.6 L1228.6 1933.1 L1232.3 1932.6 L1235.9 1932.0 L1239.5 1931.5 L1243.2 1931.0 L1246.9 1930.5 L1250.5 1929.9 L1254.2 1929.4 L1257.9 1928.9 L1261.5 1928.3 L1265.2 1927.7 L1268.9 1927.2 L1272.5 1926.6 L1276.2 1926.0 L1279.9 1925.4 L1283.5 1924.7 L1287.2 1924.1 L1290.9 1923.4 L1294.5 1922.8 L1298.2 1922.1 L1301.8 1921.3 L1305.4 1920.6 L1309.1 1919.8 L1312.7 1919.0 L1316.3 1918.2 L1319.9 1917.3 L1323.4 1916.5 L1327.0 1915.6 L1330.5 1914.6 L1334.1 1913.6 L1337.6 1912.6 L1341.1 1911.6 L1344.6 1910.5 L1348.1 1909.4 L1351.5 1908.3 L1354.9 1907.1 L1358.3 1905.8 L1361.7 1904.6 L1365.1 1903.3 L1368.4 1901.9 L1371.8 1900.5 L1375.1 1899.0 L1378.3 1897.5 L1381.6 1896.0 L1384.8 1894.4 L1388.0 1892.8 L1391.1 1891.1 L1394.3 1889.4 L1397.4 1887.6 L1400.5 1885.8 L1403.6 1883.9 L1406.6 1882.0 L1409.6 1880.1 L1412.6 1878.1 L1415.6 1876.1 L1418.6 1874.1 L1421.5 1872.0 L1424.4 1869.9 L1427.3 1867.7 L1430.2 1865.5 L1433.1 1863.3 L1435.9 1861.1 L1438.7 1858.8 L1441.6 1856.5 L1444.3 1854.1 L1447.1 1851.7 L1449.9 1849.3 L1452.6 1846.9 L1455.3 1844.5 L1458.0 1842.0 L1460.7 1839.5 L1463.4 1837.0 L1466.0 1834.4 L1468.7 1831.9 L1471.3 1829.3 L1473.9 1826.7 L1476.5 1824.0 L1479.1 1821.4 L1481.7 1818.7 L1484.3 1816.1 L1486.8 1813.4 L1489.3 1810.7 L1491.9 1807.9 L1494.4 1805.2 L1496.9 1802.5 L1499.4 1799.7 L1501.9 1796.9 L1504.4 1794.1 L1506.8 1791.4 L1509.3 1788.6 L1511.8 1785.8 L1514.2 1783.0 L1516.6 1780.1 L1519.1 1777.3 L1521.5 1774.5 L1523.9 1771.7 L1526.3 1768.9 L1528.7 1766.0 L1531.1 1763.2 L1533.5 1760.4 L1535.9 1757.6 L1538.3 1754.8 L1540.7 1751.9 L1543.1 1749.1 L1545.5 1746.3 L1547.8 1743.5 L1550.2 1740.7 L1552.6 1737.9 L1554.9 1735.2 L1557.3 1732.4 L1559.7 1729.6 L1562.0 1726.9 L1564.4 1724.2 L1566.8 1721.4 L1569.2 1718.7 L1571.5 1716.0 L1573.9 1713.4 L1576.3 1710.7 L1578.6 1708.1 L1581.0 1705.4 L1583.4 1702.8 L1585.8 1700.2 L1588.2 1697.7 L1590.6 1695.1 L1593.0 1692.6 L1595.4 1690.1"/>
<text class="cap" x="1071" y="3026.6">(<tspan font-weight="bold" dx="-0.5">b</tspan><tspan dx="-3">)</tspan></text>
</svg>
</body></html>
